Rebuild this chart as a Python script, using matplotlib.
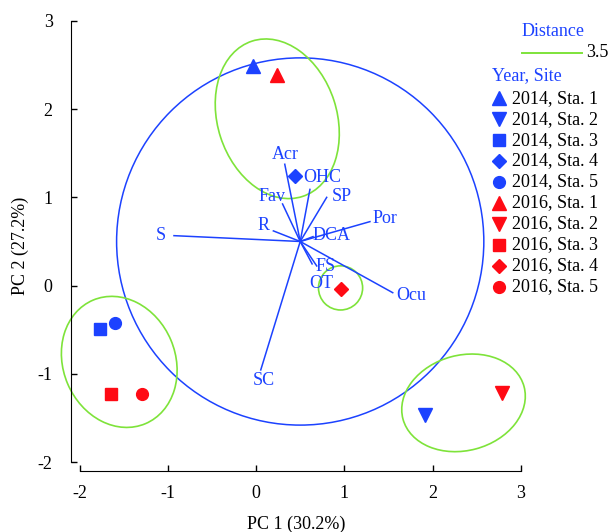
import matplotlib
matplotlib.use("Agg")
import matplotlib.pyplot as plt
from matplotlib.patches import Ellipse, Circle
from matplotlib.lines import Line2D

# 样点得分 (PC1, PC2)
sample_labels = ["2014, Sta. 1", "2014, Sta. 2", "2014, Sta. 3", "2014, Sta. 4", "2014, Sta. 5",
                 "2016, Sta. 1", "2016, Sta. 2", "2016, Sta. 3", "2016, Sta. 4", "2016, Sta. 5"]
pc1 = [-0.03, 1.91, -1.77, 0.44, -1.60, 0.24, 2.79, -1.64, 0.96, -1.29]
pc2 = [2.49, -1.47, -0.49, 1.24, -0.42, 2.39, -1.22, -1.23, -0.04, -1.23]

# 变量向量 (终点)
var_names = ["Acr", "OHC", "Fav", "SP", "Por", "R", "S", "DCA", "FS", "OT", "Ocu", "SC"]
var_x = [0.325, 0.61, 0.30, 0.80, 1.29, 0.196, -0.93, 0.645, 0.687, 0.635, 1.548, 0.053]
var_y = [1.375, 1.09, 0.925, 1.00, 0.725, 0.62, 0.566, 0.555, 0.223, 0.246, -0.08, -0.955]
origin = (0.5, 0.5)
circle_r = 2.08

# 聚类椭圆 (距离 3.5): 中心x, 中心y, 宽, 高, 角度
clu_x = [0.24, -1.55, 0.957, 2.35]
clu_y = [1.89, -0.864, -0.026, -1.328]
clu_w = [1.85, 1.52, 0.50, 1.42]
clu_h = [1.35, 1.27, 0.50, 1.08]
clu_ang = [108, 113, 0, 15]

BLUE = "#1c42ff"
RED = "#ff0a14"
GREEN = "#7ee33a"
markers = ["^", "v", "s", "D", "o"] * 2
msizes = [9.5, 9.5, 8.5, 7, 8.5] * 2
colors = [BLUE] * 5 + [RED] * 5

# 向量标签位置及对齐
label_pos = {
    "Acr": (0.33, 1.48, "center"), "OHC": (0.53, 1.22, "left"), "Fav": (0.33, 1.01, "right"),
    "SP": (0.97, 1.01, "center"), "Por": (1.46, 0.76, "center"), "R": (0.083, 0.68, "center"),
    "S": (-1.076, 0.563, "center"), "DCA": (0.857, 0.563, "center"), "FS": (0.79, 0.215, "center"),
    "OT": (0.733, 0.027, "center"), "Ocu": (1.763, -0.113, "center"), "SC": (0.083, -1.076, "center"),
}

plt.rcParams["font.family"] = ["Liberation Serif", "DejaVu Serif"]
plt.rcParams["font.size"] = 13
plt.rcParams["axes.unicode_minus"] = False

W, H = 610, 532
fig = plt.figure(figsize=(W / 100, H / 100), dpi=100)
ax = fig.add_axes([70.7 / W, 1 - 471 / H, 450.2 / W, 450.2 / H])
ax.set_xlim(-2.1, 3.0)
ax.set_ylim(-2.1, 3.0)

# 向量圆
ax.add_patch(Circle(origin, circle_r, fill=False, edgecolor=BLUE, linewidth=1.1, clip_on=False))

for cx, cy, w, h, a in zip(clu_x, clu_y, clu_w, clu_h, clu_ang):
    ax.add_patch(Ellipse((cx, cy), w, h, angle=a, fill=False, edgecolor=GREEN,
                         linewidth=1.2, clip_on=False))

for name, vx, vy in zip(var_names, var_x, var_y):
    ax.plot([origin[0], vx], [origin[1], vy], color=BLUE, linewidth=1.1, zorder=3)
    lx, ly, ha = label_pos[name]
    ax.text(lx, ly, name, color=BLUE, ha=ha, va="center", fontsize=13, zorder=4)

for x, y, m, ms, c in zip(pc1, pc2, markers, msizes, colors):
    ax.plot(x, y, marker=m, markersize=ms, color=c, linestyle="none", zorder=5, clip_on=False)

for s in ["top", "right"]:
    ax.spines[s].set_visible(False)
ax.spines["left"].set_bounds(-2, 3)
ax.spines["bottom"].set_bounds(-2, 3)
ax.set_xticks([-2, -1, 0, 1, 2, 3])
ax.set_yticks([-2, -1, 0, 1, 2, 3])
ax.tick_params(direction="in", length=4, width=1.0, labelsize=13)
ax.tick_params(axis="x", pad=10)
ax.tick_params(axis="y", pad=13)
ax.set_xlabel("PC 1 (30.2%)", fontsize=13, labelpad=10)
ax.set_ylabel("PC 2 (27.2%)", fontsize=13, labelpad=6)

# 图例
def fy(py):
    return 1 - py / H

fig.text(521.7 / W, fy(31.7), "Distance", color=BLUE, ha="left", va="center", fontsize=13)
fig.add_artist(Line2D([521.7 / W, 582 / W], [fy(52.7), fy(52.7)], color=GREEN, linewidth=1.4))
fig.text(586 / W, fy(52.7), "3.5", color="black", ha="left", va="center", fontsize=13)
fig.text(492.3 / W, fy(75.7), "Year, Site", color=BLUE, ha="left", va="center", fontsize=13)

for i, (lab, m, ms, c) in enumerate(zip(sample_labels, markers, msizes, colors)):
    py = 98.3 + i * 20.93
    fig.add_artist(Line2D([499 / W], [fy(py)], marker=m, markersize=ms, color=c, linestyle="none"))
    fig.text(511.7 / W, fy(py), lab, color="black", ha="left", va="center", fontsize=13)

fig.savefig("out.png", dpi=100, facecolor="white")
